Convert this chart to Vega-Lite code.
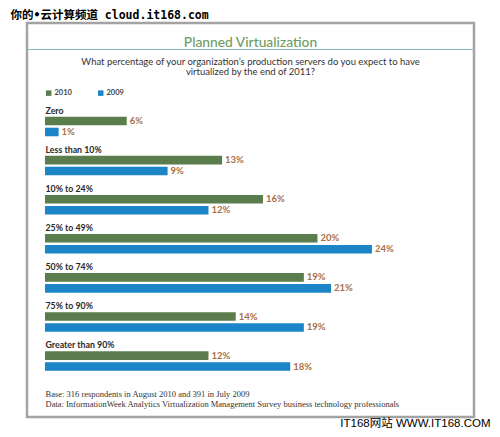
{
  "$schema": "https://vega.github.io/schema/vega-lite/v6.json",
  "width": 447,
  "height": 394,
  "autosize": {"type": "none"},
  "padding": {"left": 27, "top": 23, "right": 26, "bottom": 20},
  "background": "white",
  "title": {
    "text": "Planned Virtualization",
    "subtitle": ["What percentage of your organization\u2019s production servers do you expect to have", "virtualized by the end of 2011?"],
    "anchor": "middle",
    "frame": "group",
    "offset": -67,
    "font": "Lato, sans-serif",
    "fontSize": 13.8,
    "fontWeight": 500,
    "color": "#6f9c63",
    "subtitleFont": "Lato, sans-serif",
    "subtitleFontSize": 9.5,
    "subtitleColor": "#333333",
    "subtitleLineHeight": 10,
    "subtitlePadding": 7
  },
  "data": {
    "values": [
      {"category": "Zero", "year": "2010", "value": 6},
      {"category": "Zero", "year": "2009", "value": 1},
      {"category": "Less than 10%", "year": "2010", "value": 13},
      {"category": "Less than 10%", "year": "2009", "value": 9},
      {"category": "10% to 24%", "year": "2010", "value": 16},
      {"category": "10% to 24%", "year": "2009", "value": 12},
      {"category": "25% to 49%", "year": "2010", "value": 20},
      {"category": "25% to 49%", "year": "2009", "value": 24},
      {"category": "50% to 74%", "year": "2010", "value": 19},
      {"category": "50% to 74%", "year": "2009", "value": 21},
      {"category": "75% to 90%", "year": "2010", "value": 14},
      {"category": "75% to 90%", "year": "2009", "value": 19},
      {"category": "Greater than 90%", "year": "2010", "value": 12},
      {"category": "Greater than 90%", "year": "2009", "value": 18}
    ]
  },
  "encoding": {
    "y": {
      "field": "category",
      "type": "nominal",
      "sort": null,
      "scale": {"paddingInner": 0, "paddingOuter": 0, "range": [78.45, 352.15]},
      "axis": {
        "orient": "left",
        "domain": false,
        "ticks": false,
        "tickSize": 0,
        "grid": false,
        "labelAlign": "left",
        "labelBaseline": "middle",
        "labelPadding": -18,
        "labelOffset": -10.5,
        "labelFont": "Lato, sans-serif",
        "labelFontSize": 8.8,
        "labelFontWeight": "bold",
        "labelColor": "#2a2a2a",
        "title": "IT168\u7f51\u7ad9  WWW.IT168.COM",
        "titleAngle": 0,
        "titleX": 463,
        "titleY": 400,
        "titleAlign": "right",
        "titleBaseline": "middle",
        "titleFont": "Liberation Sans, Noto Sans CJK SC, sans-serif",
        "titleFontSize": 11.5,
        "titleFontWeight": "normal",
        "titleColor": "#000000"
      }
    },
    "yOffset": {
      "field": "year",
      "type": "nominal",
      "scale": {"domain": ["label", "2010", "2009"], "paddingInner": 0.22, "paddingOuter": 0.39}
    }
  },
  "layer": [
    {
      "mark": {"type": "bar"},
      "encoding": {
        "x": {
          "field": "value",
          "type": "quantitative",
          "scale": {"domain": [-1.32, 31.49], "nice": false, "zero": false},
          "axis": {
            "orient": "bottom",
            "domain": false,
            "ticks": false,
            "labels": false,
            "grid": false,
            "title": ["Base: 316 respondents in August 2010 and 391 in July 2009", "Data: InformationWeek Analytics Virtualization Management Survey business technology professionals"],
            "titleX": 18,
            "titleY": -21,
            "titleAlign": "left",
            "titleAnchor": null,
            "titleBaseline": "alphabetic",
            "titleLineHeight": 10,
            "titleFont": "Liberation Serif, serif",
            "titleFontSize": 8.5,
            "titleFontWeight": "normal",
            "titleColor": "#333333"
          }
        },
        "color": {
          "field": "year",
          "type": "nominal",
          "scale": {"domain": ["2010", "2009"], "range": ["#5b7c4c", "#1b85c8"]},
          "legend": {
            "orient": "none",
            "legendX": 18,
            "legendY": 66,
            "direction": "horizontal",
            "title": null,
            "padding": 0,
            "symbolType": "square",
            "symbolSize": 30,
            "symbolStrokeWidth": 0,
            "labelOffset": 2,
            "columnPadding": 25,
            "labelFont": "Lato, sans-serif",
            "labelFontSize": 7.5,
            "labelFontWeight": "bold",
            "labelColor": "#444444"
          }
        }
      }
    },
    {
      "transform": [{"calculate": "datum.value + '%'", "as": "label"}],
      "mark": {
        "type": "text",
        "align": "left",
        "baseline": "middle",
        "dx": 3,
        "font": "Lato, sans-serif",
        "fontSize": 9.5,
        "fontWeight": "bold",
        "color": "#a86f48"
      },
      "encoding": {
        "text": {"field": "label", "type": "nominal"},
        "x": {
          "field": "value",
          "type": "quantitative",
          "scale": {"domain": [-1.32, 31.49], "nice": false, "zero": false},
          "axis": {
            "orient": "top",
            "offset": -26,
            "domain": true,
            "domainColor": "#86bcc0",
            "domainWidth": 1,
            "ticks": false,
            "labels": false,
            "grid": false,
            "title": "\u4f60\u7684\u2022\u4e91\u8ba1\u7b97\u9891\u9053 cloud.it168.com",
            "titleX": -17,
            "titleY": -34,
            "titleAlign": "left",
            "titleAnchor": null,
            "titleBaseline": "middle",
            "titleFont": "DejaVu Sans Mono, Noto Sans CJK SC, monospace",
            "titleFontSize": 11.5,
            "titleFontWeight": "bold",
            "titleColor": "#000000"
          }
        }
      }
    }
  ],
  "resolve": {"axis": {"x": "independent"}},
  "config": {
    "view": {"stroke": "#a3a3a3", "strokeWidth": 2.5}
  }
}
